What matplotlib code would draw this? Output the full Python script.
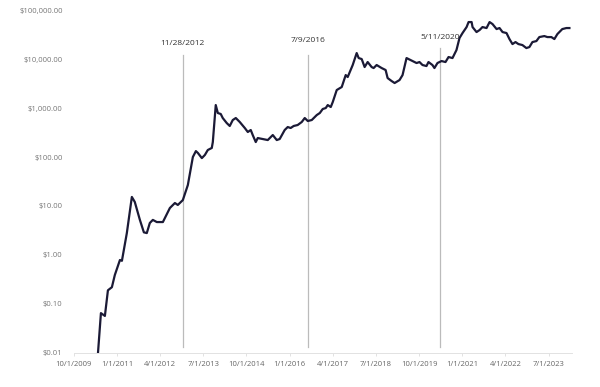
import numpy as np
import pandas as pd
import matplotlib
matplotlib.use("Agg")
import matplotlib.pyplot as plt
import matplotlib.ticker as mticker

# price history (date, USD)
dates = [
    "2010-06-15", "2010-07-16", "2010-08-27", "2010-09-28", "2010-11-09", "2010-12-10",
    "2011-02-02", "2011-02-23", "2011-04-16", "2011-06-08", "2011-07-09", "2011-09-01",
    "2011-10-13", "2011-11-13", "2011-12-15", "2012-01-16", "2012-02-27", "2012-05-01",
    "2012-07-14", "2012-09-05", "2012-10-06", "2012-11-28", "2013-01-20", "2013-03-14",
    "2013-04-15", "2013-05-06", "2013-06-17", "2013-07-19", "2013-08-19", "2013-09-30",
    "2013-10-11", "2013-11-11", "2013-12-03", "2014-01-03", "2014-01-24", "2014-03-07",
    "2014-04-08", "2014-05-10", "2014-06-11", "2014-07-23", "2014-09-14", "2014-10-16",
    "2014-11-16", "2014-12-07", "2015-01-08", "2015-01-29", "2015-03-23", "2015-05-15",
    "2015-07-07", "2015-08-18", "2015-09-18", "2015-11-10", "2015-12-12", "2016-01-12",
    "2016-02-13", "2016-03-26", "2016-05-08", "2016-06-09", "2016-07-11", "2016-08-22",
    "2016-10-14", "2016-11-15", "2016-12-16", "2017-01-17", "2017-02-07", "2017-03-11",
    "2017-04-01", "2017-05-13", "2017-07-05", "2017-08-16", "2017-09-06", "2017-10-29",
    "2017-12-10", "2017-12-31", "2018-02-01", "2018-03-04", "2018-04-05", "2018-05-17",
    "2018-06-07", "2018-07-09", "2018-08-31", "2018-10-12", "2018-11-02", "2018-12-14",
    "2019-01-15", "2019-03-08", "2019-04-09", "2019-05-21", "2019-07-02", "2019-08-14",
    "2019-09-04", "2019-10-05", "2019-11-06", "2019-12-18", "2020-01-08", "2020-02-19",
    "2020-03-11", "2020-04-12", "2020-05-25", "2020-07-06", "2020-08-07", "2020-09-18",
    "2020-10-30", "2020-12-01", "2021-01-02", "2021-02-14", "2021-03-07", "2021-04-08",
    "2021-04-18", "2021-05-30", "2021-07-01", "2021-08-01", "2021-09-13", "2021-10-15",
    "2021-11-15", "2021-12-28", "2022-01-28", "2022-03-01", "2022-04-12", "2022-05-13",
    "2022-06-14", "2022-07-16", "2022-08-16", "2022-09-27", "2022-11-08", "2022-12-10",
    "2023-01-11", "2023-02-22", "2023-03-25", "2023-05-17", "2023-06-18", "2023-07-30",
    "2023-08-31", "2023-10-02", "2023-11-23", "2024-01-05", "2024-02-06",
]
prices = [
    0.01, 0.065, 0.057, 0.19, 0.22, 0.39,
    0.79, 0.76, 2.8, 15.3, 12.1, 5.2,
    2.9, 2.8, 4.5, 5.2, 4.7, 4.7,
    9.1, 11.5, 10.5, 13.2, 26.8, 100,
    132, 121, 95, 110, 139, 153,
    202, 1150, 791, 755, 625, 494,
    430, 569, 625, 518, 391, 324,
    356, 281, 202, 244, 233, 222,
    281, 222, 233, 356, 409, 391,
    430, 450, 518, 625, 543, 569,
    719, 791, 955, 1000, 1150, 1048,
    1325, 2330, 2685, 4710, 4295, 7550,
    13250, 10480, 10000, 6870, 8690, 6870,
    6550, 7550, 6550, 5970, 4095, 3560,
    3240, 3725, 4710, 10480, 9540, 8690,
    8290, 8690, 7550, 7200, 8690, 7550,
    6550, 8290, 9100, 8690, 10990, 10480,
    15280, 26850, 33950, 44980, 56900, 56900,
    44980, 35570, 39060, 44980, 42950, 56900,
    51800, 40930, 42950, 35570, 33950, 25600,
    20220, 22220, 20220, 19310, 16760, 17570,
    22220, 23290, 28100, 29450, 28100, 28100,
    25600, 32360, 40930, 42950, 42950,
]

tick_dates = ["2009-10-01", "2011-01-01", "2012-04-01", "2013-07-01", "2014-10-01",
              "2016-01-01", "2017-04-01", "2018-07-01", "2019-10-01", "2021-01-01",
              "2022-04-01", "2023-07-01"]
tick_labels = ["10/1/2009", "1/1/2011", "4/1/2012", "7/1/2013", "10/1/2014",
               "1/1/2016", "4/1/2017", "7/1/2018", "10/1/2019", "1/1/2021",
               "4/1/2022", "7/1/2023"]

y_ticks = [0.01, 0.1, 1, 10, 100, 1000, 10000, 100000]
y_labels = ["$0.01", "$0.10", "$1.00", "$10.00", "$100.00", "$1,000.00",
            "$10,000.00", "$100,000.00"]

halvings = ["2012-11-28", "2016-07-09", "2020-05-11"]
halving_labels = ["11/28/2012", "7/9/2016", "5/11/2020"]

plt.rcParams['font.family'] = ['Open Sans', 'DejaVu Sans']

fig = plt.figure(figsize=(6, 3.87), dpi=100)
ax = fig.add_axes([0.1228, 0.088, 0.83, 0.886])

x = pd.to_datetime(dates)
ax.plot(x, prices, color="#1b1a36", lw=1.6, solid_joinstyle="round", zorder=3)

ax.set_yscale("log")
ax.set_ylim(0.01, 100000)
ax.set_xlim(pd.Timestamp("2009-10-01"), pd.Timestamp("2024-03-01"))

ax.yaxis.set_major_locator(mticker.FixedLocator(y_ticks))
ax.yaxis.set_minor_locator(mticker.NullLocator())
ax.set_yticklabels(y_labels)
ax.set_xticks(pd.to_datetime(tick_dates))
ax.set_xticklabels(tick_labels)

ax.tick_params(axis="y", length=0, pad=8, labelsize=5.5, labelcolor="#777777")
ax.tick_params(axis="x", length=2.5, width=0.6, color="#dddddd", pad=3,
               labelsize=5.5, labelcolor="#666666")

for s in ["left", "top", "right"]:
    ax.spines[s].set_visible(False)
ax.spines["bottom"].set_color("#e2e2e2")
ax.spines["bottom"].set_linewidth(0.7)

tops = [0.869, 0.869, 0.889]
label_y = [0.903, 0.911, 0.921]
for d, lab, t, ly in zip(halvings, halving_labels, tops, label_y):
    xd = pd.Timestamp(d)
    ax.axvline(xd, ymin=0.018, ymax=t, color="#bbbbbb", lw=0.9, zorder=1)
    ax.text(xd, ly, lab, transform=ax.get_xaxis_transform(), ha="center",
            va="center", fontsize=6, color="#333333")

fig.savefig("out.png", dpi=100)
